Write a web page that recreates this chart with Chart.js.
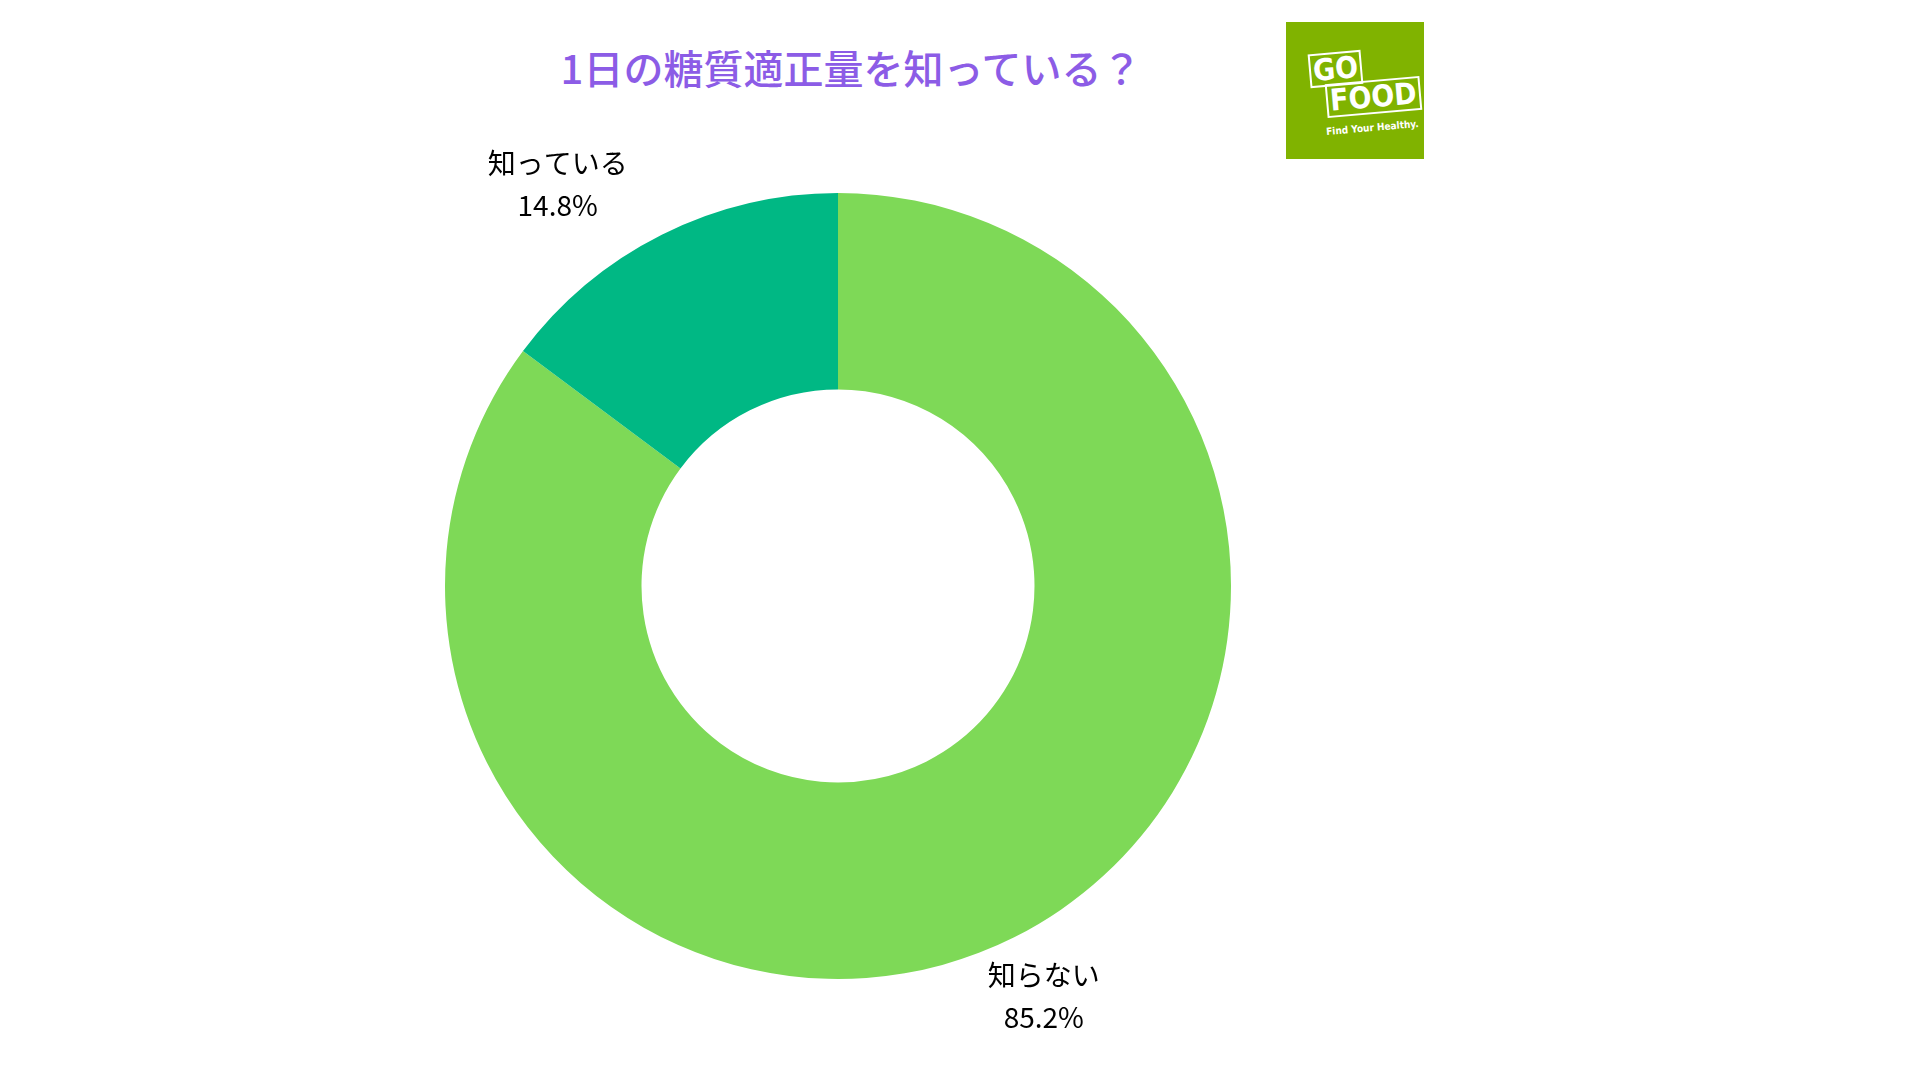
<!DOCTYPE html>
<html><head><meta charset="utf-8">
<script src="https://cdn.jsdelivr.net/npm/chart.js@4"></script>
<style>
body{margin:0;width:1920px;height:1080px;background:#fff;overflow:hidden;font-family:"Noto Sans CJK JP","Noto Sans",sans-serif;}
#title{position:absolute;left:0;width:1702px;top:38px;text-align:center;font-size:40px;font-weight:500;color:#8c5ce6;}
#logo{position:absolute;left:1286px;top:22px;width:138px;height:137px;background:#80b300;color:#fff;font-family:"DejaVu Sans Condensed","Liberation Sans Narrow",sans-serif;}
#logo .b{position:absolute;font-weight:bold;font-size:30px;line-height:30px;border:2px solid #fff;padding:0 2px;transform:rotate(-5deg);}
</style></head><body>
<div id="title">1日の糖質適正量を知っている？</div>
<div id="logo">
<div class="b" style="left:23px;top:30px;">GO</div>
<div class="b" style="left:40px;top:58px;">FOOD</div>
<div style="position:absolute;left:40px;top:100px;font-size:10px;font-weight:bold;transform:rotate(-5deg);">Find Your Healthy.</div>
</div>
<canvas id="c" width="1920" height="1080" style="position:absolute;left:0;top:0"></canvas>
<script>
const categories=["知らない","知っている"];
const values=[85.2,14.8];
const colors=["#7ed957","#00b884"];
const labelPlugin={id:'lbl',afterDatasetsDraw(chart){
  const ctx=chart.ctx;const meta=chart.getDatasetMeta(0);
  meta.data.forEach((arc,i)=>{
    const mid=(arc.startAngle+arc.endAngle)/2;
    const r=arc.outerRadius+(i===0?66:56);
    const x=arc.x+Math.cos(mid)*r+(i===0?0:-79), y=arc.y+Math.sin(mid)*r;
    ctx.save();ctx.fillStyle='#000';ctx.textAlign='center';ctx.textBaseline='middle';
    ctx.font='28px "Noto Sans CJK JP"';
    ctx.fillText(categories[i],x,y-21);
    ctx.fillText(values[i].toFixed(1)+'%',x,y+21);
    ctx.restore();
  });
}};
new Chart(document.getElementById('c'),{type:'doughnut',
data:{labels:categories,datasets:[{data:values,backgroundColor:colors,borderWidth:0}]},
options:{responsive:false,animation:false,cutout:'50%',
layout:{padding:{left:445,right:689,top:193,bottom:101}},
plugins:{legend:{display:false},tooltip:{enabled:false}}},
plugins:[labelPlugin]});
</script></body></html>
